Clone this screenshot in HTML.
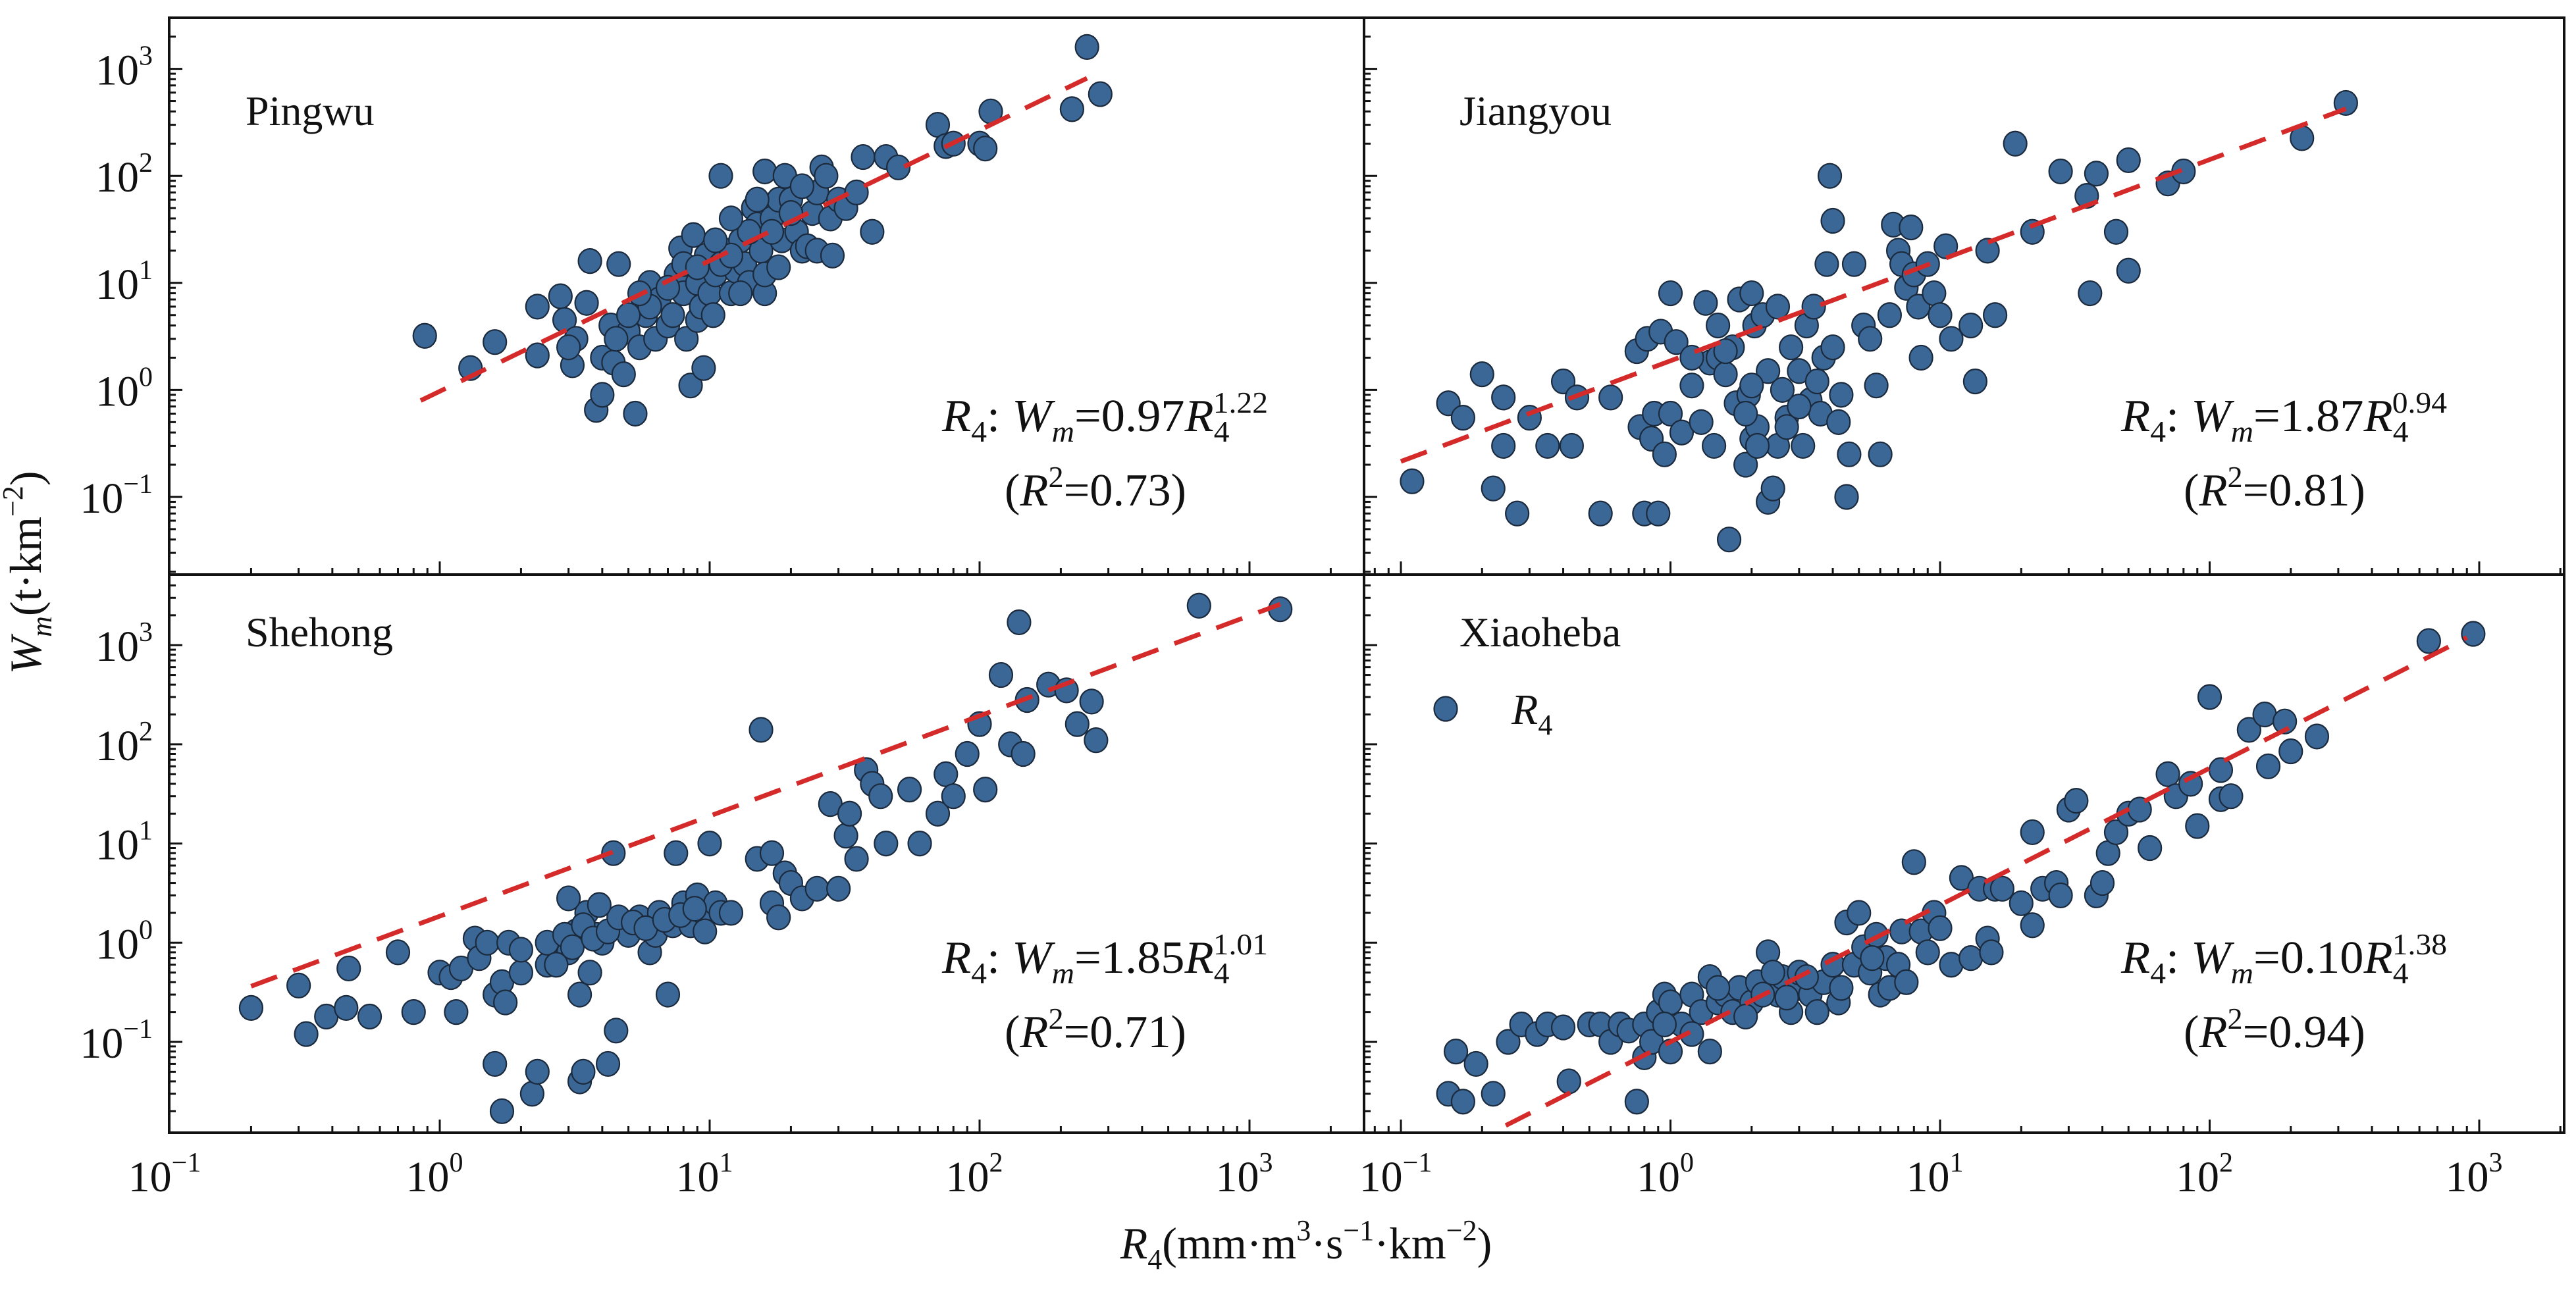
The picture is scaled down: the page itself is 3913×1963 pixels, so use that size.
<!DOCTYPE html>
<html><head><meta charset="utf-8">
<style>
html,body{margin:0;padding:0;background:#fff;}
svg{display:block;font-family:"Liberation Serif","DejaVu Serif",serif;}
</style></head>
<body>
<svg id="chart" width="3913" height="1963" viewBox="0 0 3913 1963" xmlns="http://www.w3.org/2000/svg">
<rect x="0" y="0" width="3913" height="1963" fill="#fff"/>
<g id="layer"></g>
</svg>
<script>
// ---------- data ----------
const panelNames = ["Pingwu","Jiangyou","Shehong","Xiaoheba"];
const fitA = [0.97, 1.87, 1.85, 0.10];
const fitB = [1.22, 0.94, 1.01, 1.38];
const fitR2 = ["0.73","0.81","0.71","0.94"];
const fitXmin = [0.85, 0.1, 0.2, 0.245];
const fitXmax = [250, 320, 1300, 900];
const xTickExps = [-1,0,1,2,3];
const yTickExps = [-1,0,1,2,3];

const pingwuX = [0.88,1.3,1.6,2.3,2.3,2.8,2.9,3.1,3.2,3.5,3.6,3.8,4,4,4.3,4.4,4.6,4.8,5,5.3,5.5,5.8,6,6.3,6.5,7,7.3,7.5,7.8,8,8.2,8.5,8.7,9,9,9.3,9.5,9.7,10,10.3,10.5,11,11.5,12,12.5,13,13.5,14,14.5,15,15.5,16,16,17,18,18.5,19,20,21,22,23,24,25,25,26,27,28,28.5,30,32,35,37,40,45,50,70,75,80,100,110,105,220,250,280,5,6,7,8,11,12,13,14,20,22,3,4.5,5.5,9,10.5,16,18,15,17,12];
const pingwuY = [3.2,1.6,2.8,2.1,6,7.5,4.5,1.7,3,6.5,16,0.65,0.9,2,4,1.8,15,1.4,3.5,0.6,2.5,5,10,3,7,4,5,12,21,8,3,1.1,28,10,4.5,6,1.6,18,8,5,12,100,20,8,13,25,15,10,50,35,20,8,110,40,60,25,100,60,30,20,22,45,20,70,120,100,40,18,60,50,70,150,30,150,120,300,190,200,200,400,180,420,1600,580,5,6,9,15,15,18,8,30,45,80,2.5,3,8,14,25,12,14,60,30,40];

const jiangyouX = [0.11,0.15,0.17,0.2,0.22,0.24,0.24,0.27,0.3,0.35,0.4,0.43,0.45,0.55,0.6,0.75,0.77,0.8,0.82,0.85,0.87,0.9,0.92,0.95,1,1,1.05,1.1,1.2,1.3,1.35,1.4,1.45,1.5,1.5,1.6,1.65,1.7,1.75,1.8,1.9,1.95,2,2,2.05,2.1,2.2,2.3,2.3,2.4,2.5,2.5,2.6,2.7,2.8,3,3.1,3.2,3.3,3.4,3.5,3.6,3.7,3.8,3.9,4,4.2,4.3,4.5,4.6,4.8,5.2,5.5,5.8,6,6.5,6.7,7,7.2,7.5,7.8,8,8.3,8.5,9,9.5,10,10.5,11,13,13.5,15,16,19,22,28,35,36,38,45,50,50,70,80,220,320,2,2.7,3,1.2,1.6,4,2.1,1.9];
const jiangyouY = [0.14,0.75,0.55,1.4,0.12,0.3,0.85,0.07,0.55,0.3,1.2,0.3,0.85,0.07,0.85,2.3,0.45,0.07,3,0.35,0.6,0.07,3.5,0.25,8,0.6,2.8,0.4,1.1,0.5,6.5,1.8,0.3,4,2,1.4,0.04,2.5,0.75,7,0.2,0.9,8,0.35,4,0.45,5,0.09,1.5,0.12,0.3,6,1,0.55,2.5,1.5,0.3,4,0.8,6,1.2,0.6,2,15,100,38,0.5,0.9,0.1,0.25,15,4,3,1.1,0.25,5,35,20,15,9,33,12,6,2,15,8,5,22,3,4,1.2,20,5,200,30,110,65,8,105,30,13,140,85,110,225,480,1.1,0.45,0.7,2,2.3,2.5,0.3,0.6];

const shehongX = [0.2,0.3,0.32,0.38,0.45,0.46,0.55,0.7,0.8,1,1.1,1.15,1.2,1.35,1.4,1.5,1.6,1.6,1.7,1.7,1.75,1.8,2,2,2.2,2.3,2.5,2.8,3,3.2,3.3,3.3,3.4,3.5,3.6,3.8,4,4.2,4.4,4.5,4.8,5,5.5,6,6.3,6.5,7,7.3,7.5,8,8.5,9,9.5,10,10.5,11,12,15,15.5,17,17,18,19,20,22,25,28,30,32,33,35,38,40,43,45,55,60,70,75,80,90,100,105,120,130,140,145,150,180,210,230,260,270,650,1300,2.5,2.9,3.1,3.4,3.7,4.2,4.6,5.2,5.8,6.8,7.8,8.8,9.6,3,3.9,2.7];
const shehongY = [0.22,0.37,0.12,0.18,0.22,0.55,0.18,0.8,0.2,0.5,0.45,0.2,0.55,1.1,0.7,1,0.3,0.06,0.02,0.4,0.25,1,0.5,0.85,0.03,0.05,0.6,1,0.8,1.3,0.3,0.04,0.05,2,0.5,1.2,1,0.06,8,0.13,1.5,1.2,1.8,0.8,1.2,2,0.3,1.5,8,2.5,1.5,3,2,10,2.5,2,2,7,140,8,2.5,1.8,5,4,2.8,3.5,25,3.5,12,20,7,55,40,30,10,35,10,20,50,30,80,160,35,500,100,1700,80,280,400,350,160,270,110,2500,2300,1,1.2,0.9,1.5,1.1,1.3,1.8,1.6,1.4,1.7,1.9,2.2,1.3,2.8,2.4,0.6];

const xiaohebaX = [0.15,0.16,0.17,0.19,0.22,0.25,0.28,0.32,0.35,0.4,0.42,0.5,0.55,0.6,0.65,0.7,0.75,0.8,0.8,0.85,0.9,0.95,1,1,1.1,1.2,1.3,1.4,1.4,1.5,1.6,1.7,1.8,2,2.1,2.3,2.5,2.6,2.8,3,3,3.3,3.5,3.7,4,4.2,4.5,4.8,5,5.2,5.5,5.8,6,6.3,6.5,7,7.2,7.5,8,8.5,9,9.5,10,11,12,13,14,15,15.5,16,17,20,22,22,24,27,28,30,32,38,40,42,45,50,55,60,70,75,85,90,100,110,110,120,140,160,165,190,200,250,650,950,1.5,2.2,2.7,3.2,1.9,2.4,1.2,0.95,4.3,5.6];
const xiaohebaY = [0.03,0.08,0.025,0.06,0.03,0.1,0.15,0.12,0.15,0.14,0.04,0.15,0.15,0.1,0.15,0.13,0.025,0.15,0.07,0.1,0.2,0.3,0.25,0.08,0.15,0.3,0.2,0.45,0.08,0.25,0.3,0.2,0.35,0.25,0.4,0.8,0.3,0.45,0.2,0.35,0.5,0.3,0.2,0.4,0.6,0.25,1.6,0.6,2,0.9,0.5,1.2,0.3,0.7,0.35,0.6,1.3,0.4,6.5,1.3,0.8,2,1.4,0.6,4.5,0.7,3.5,1.1,0.8,3.5,3.5,2.5,1.5,13,3.5,4,3,22,27,3,4,8,13,20,22,9,50,30,40,15,300,55,28,30,140,200,60,170,85,120,1100,1300,0.35,0.3,0.28,0.45,0.18,0.5,0.12,0.15,0.35,0.7];

const seriesX = [pingwuX, jiangyouX, shehongX, xiaohebaX];
const seriesY = [pingwuY, jiangyouY, shehongY, xiaohebaY];

// ---------- layout ----------
const NS = "http://www.w3.org/2000/svg";
const layer = document.getElementById("layer");
const panels = [
  {x0:257,x1:2072,y0:27,y1:873, xOrig:258,xDec:410,yOrig:755,yDec:162.6, col:0,row:0},
  {x0:2072,x1:3895,y0:27,y1:873, xOrig:2128,xDec:409.5,yOrig:755,yDec:162.6, col:1,row:0},
  {x0:257,x1:2072,y0:873,y1:1721, xOrig:258,xDec:410,yOrig:1583,yDec:150.7, col:0,row:1},
  {x0:2072,x1:3895,y0:873,y1:1721, xOrig:2128,xDec:409.5,yOrig:1583,yDec:150.7, col:1,row:1}
];
function mk(tag, attrs, parent){
  const e = document.createElementNS(NS, tag);
  for (const k in attrs) e.setAttribute(k, attrs[k]);
  (parent||layer).appendChild(e);
  return e;
}
function xScale(p, v){ return p.xOrig + (Math.log10(v)+1)*p.xDec; }
function yScale(p, v){ return p.yOrig - (Math.log10(v)+1)*p.yDec; }

panels.forEach((p, i) => {
  const g = mk("g", {});
  
  
  const cid = "clip" + i;
  const cp = mk("clipPath", {id: cid}, g);
  mk("rect", {x:p.x0, y:p.y0, width:p.x1-p.x0, height:p.y1-p.y0}, cp);

  const pts = mk("g", {"clip-path":"url(#"+cid+")"}, g);
  
  
  const xs = seriesX[i], ys = seriesY[i];
  for (let k = 0; k < xs.length; k++){
    const c = mk("ellipse", {cx: xScale(p, xs[k]), cy: yScale(p, ys[k]), rx: 17.5, ry: 18.5,
      fill:"#3b6796", stroke:"#1b2a3c", "stroke-width":2.2}, pts);
    
    
  }
  const lx0 = fitXmin[i], lx1 = fitXmax[i];
  const fl = mk("line", {x1: xScale(p, lx0), y1: yScale(p, fitA[i]*Math.pow(lx0, fitB[i])),
    x2: xScale(p, lx1), y2: yScale(p, fitA[i]*Math.pow(lx1, fitB[i])),
    stroke:"#d42a2a", "stroke-width":7, "stroke-dasharray":"42 26", "clip-path":"url(#"+cid+")"}, g);
  
  

  const tk = mk("g", {stroke:"#111", "stroke-width":3}, g);
  
  
  for (let e = -3; e <= 4; e++){
    for (let m = 1; m <= 9; m++){
      const v = m*Math.pow(10, e);
      const len = m === 1 ? 20 : 10;
      const xx = xScale(p, v);
      if (xx > p.x0+2 && xx < p.x1-2) mk("line", {x1:xx, y1:p.y1, x2:xx, y2:p.y1-len}, tk);
      const yy = yScale(p, v);
      if (yy > p.y0+2 && yy < p.y1-2) mk("line", {x1:p.x0, y1:yy, x2:p.x0+len, y2:yy}, tk);
    }
  }
  if (p.row === 1){
    xTickExps.forEach(e => {
      const t = mk("text", {x: xScale(p, Math.pow(10,e)) - 8, y: 1810, "font-size":66, "text-anchor":"middle", fill:"#111"}, g);
      
      
      t.textContent = "10";
      const s = mk("tspan", {dy:-30, "font-size":42}, t); s.textContent = e < 0 ? "\u2212" + (-e) : String(e);
    });
  }
  if (p.col === 0){
    yTickExps.forEach(e => {
      const yy = yScale(p, Math.pow(10,e));
      const t = mk("text", {x: 232, y: yy + 24, "font-size":66, "text-anchor":"end", fill:"#111"}, g);
      
      
      t.textContent = "10";
      const s = mk("tspan", {dy:-30, "font-size":42}, t); s.textContent = e < 0 ? "\u2212" + (-e) : String(e);
    });
  }
  const tx = p.col === 0 ? 373 : 2217;
  const ty = p.row === 0 ? 190 : 982;
  const tt = mk("text", {x:tx, y:ty, "font-size":64, fill:"#111"}, g);
  
  
  tt.textContent = panelNames[i];

  const ex = p.col === 0 ? 1431 : 3222;
  const ey = p.row === 0 ? 655 : 1478;
  const eq = mk("text", {x:ex, y:ey, "font-size":70, fill:"#111"}, g);
  
  
  eq.innerHTML = '<tspan font-style="italic">R</tspan><tspan font-size="46" dy="16">4</tspan><tspan dy="-16">: </tspan><tspan font-style="italic">W</tspan><tspan font-style="italic" font-size="46" dy="16">m</tspan><tspan dy="-16">=' + fitA[i].toFixed(2) + '</tspan><tspan font-style="italic">R</tspan><tspan font-size="46" dy="16">4</tspan><tspan font-size="46" dy="-44" dx="-24">' + fitB[i].toFixed(2) + '</tspan>';
  eq.setAttribute("textLength", 495);
  eq.setAttribute("lengthAdjust", "spacingAndGlyphs");
  const r2 = mk("text", {x: ex + 95, y: ey + 113, "font-size":70, fill:"#111", textLength:276, lengthAdjust:"spacingAndGlyphs"}, g);
  
  
  r2.innerHTML = '(<tspan font-style="italic">R</tspan><tspan font-size="46" dy="-28">2</tspan><tspan dy="28">=' + fitR2[i] + ')</tspan>';
});

const fr = mk("g", {stroke:"#111", "stroke-width":4, fill:"none"});


mk("rect", {x:257, y:27, width:3895-257, height:1721-27}, fr);
mk("line", {x1:2072, y1:27, x2:2072, y2:1721}, fr);
mk("line", {x1:257, y1:873, x2:3895, y2:873}, fr);

const lg = mk("g", {});


const lm = mk("ellipse", {cx:2196, cy:1077, rx:17.5, ry:18.5, fill:"#3b6796", stroke:"#1b2a3c", "stroke-width":2.2}, lg);


const lt = mk("text", {x:2296, y:1100, "font-size":66, fill:"#111"}, lg);


lt.innerHTML = '<tspan font-style="italic">R</tspan><tspan font-size="44" dy="16">4</tspan>';

const xt = mk("text", {x:1984, y:1912, "font-size":68, "text-anchor":"middle", fill:"#111"});


xt.innerHTML = '<tspan font-style="italic">R</tspan><tspan font-size="44" dy="16">4</tspan><tspan dy="-16">(mm\u00b7m</tspan><tspan font-size="44" dy="-28">3</tspan><tspan dy="28">\u00b7s</tspan><tspan font-size="44" dy="-28">\u22121</tspan><tspan dy="28">\u00b7km</tspan><tspan font-size="44" dy="-28">\u22122</tspan><tspan dy="28">)</tspan>';
const yt = mk("text", {x:0, y:0, "font-size":68, "text-anchor":"middle", fill:"#111", transform:"translate(62,870) rotate(-90)"});


yt.innerHTML = '<tspan font-style="italic">W</tspan><tspan font-style="italic" font-size="44" dy="16">m</tspan><tspan dy="-16">(t\u00b7km</tspan><tspan font-size="44" dy="-28">\u22122</tspan><tspan dy="28">)</tspan>';
</script>
</body></html>
